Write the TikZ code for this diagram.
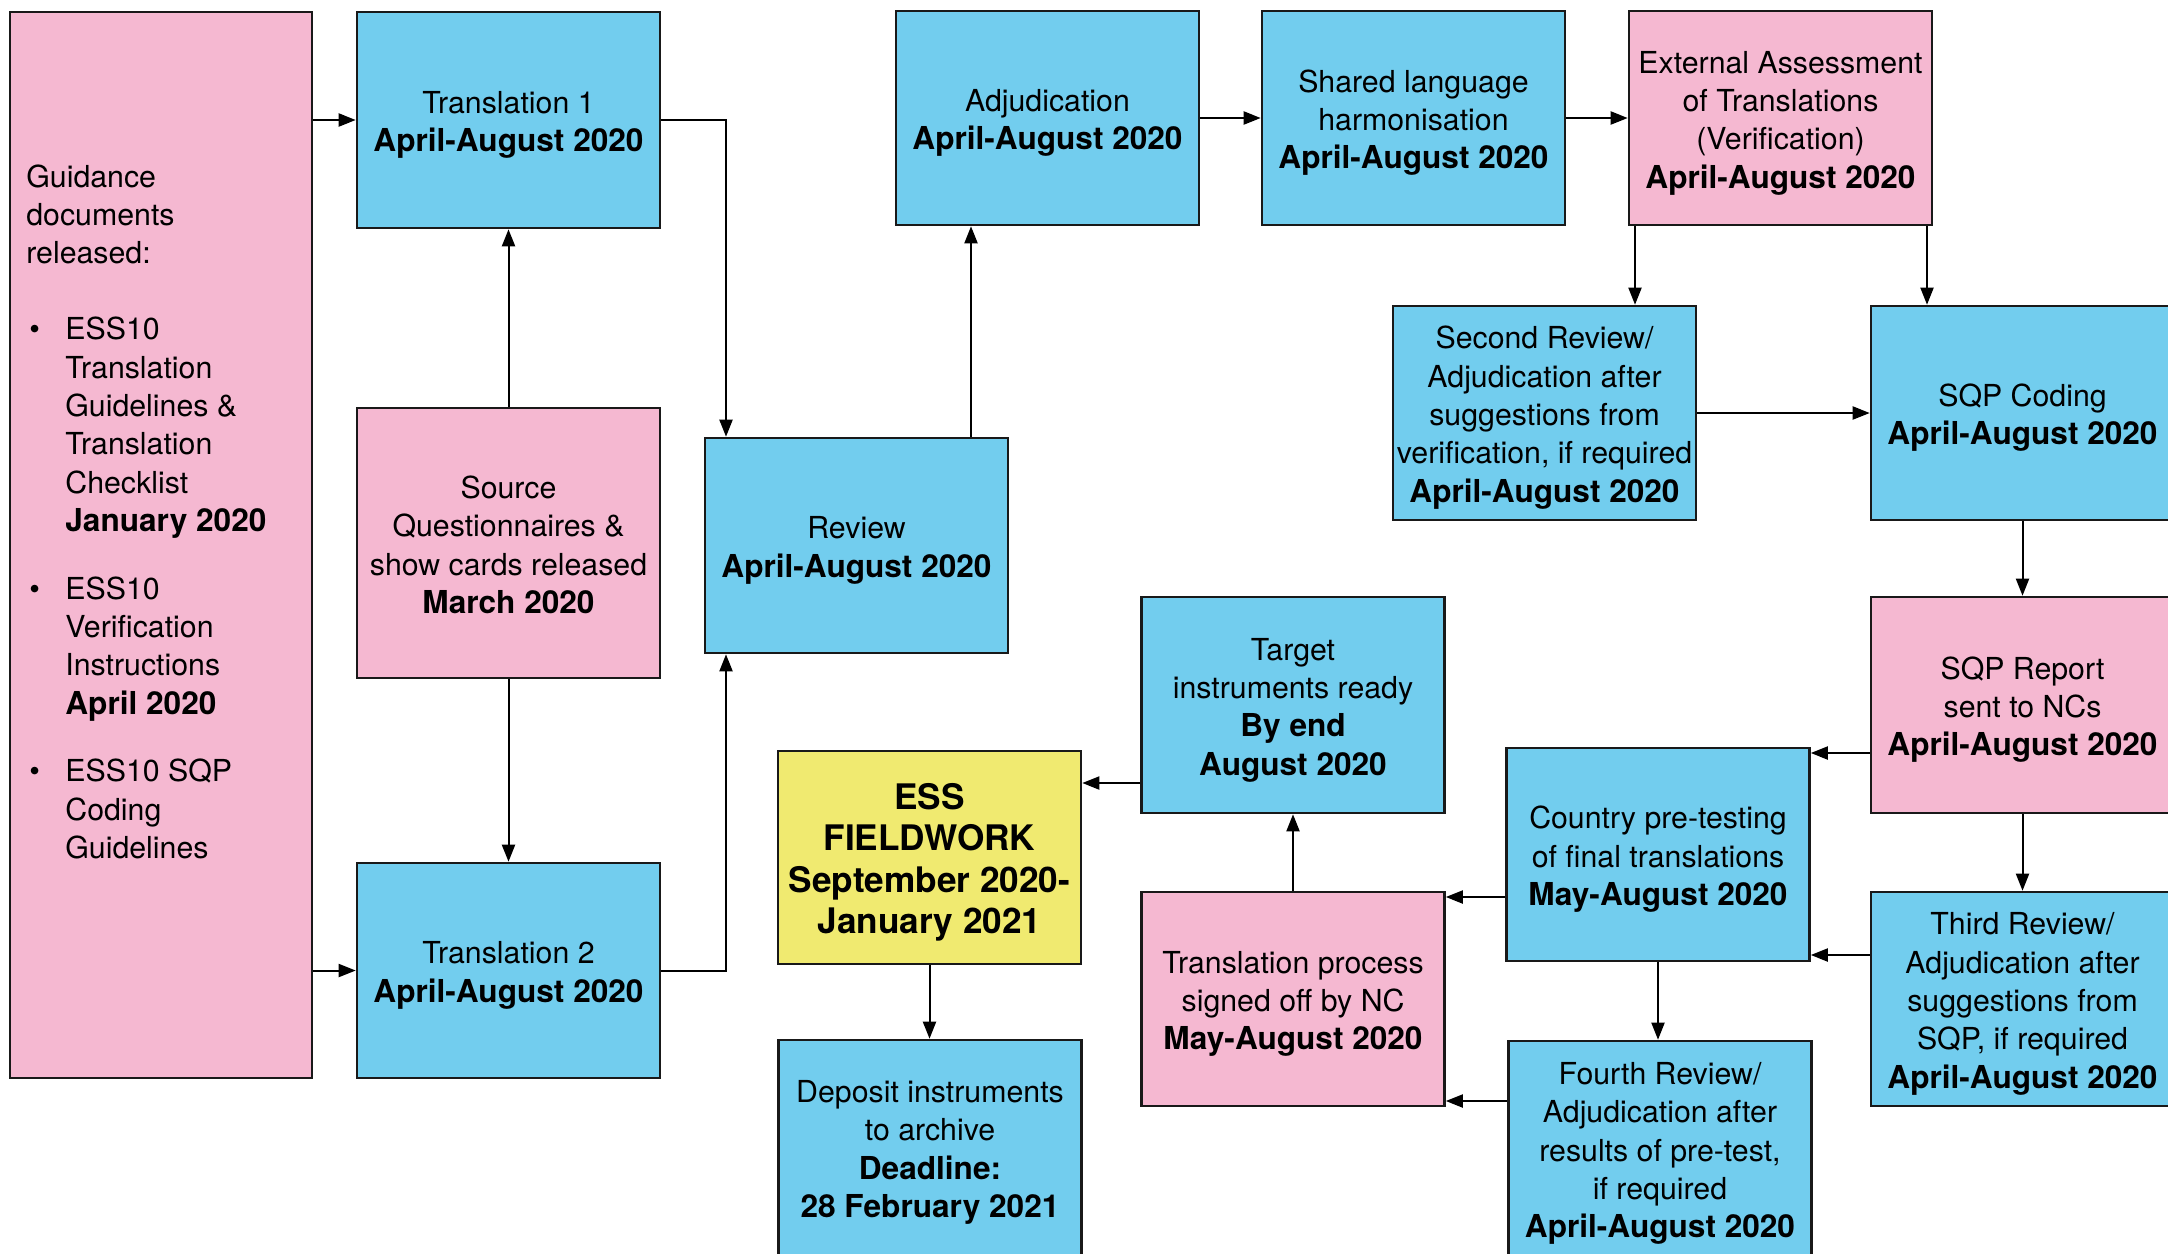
\documentclass[tikz,border=0pt]{standalone}
\usepackage{fontspec}
\setmainfont{TeX Gyre Heros}
\usetikzlibrary{arrows.meta}
\definecolor{essblue}{RGB}{114,205,238}
\definecolor{esspink}{RGB}{245,184,209}
\definecolor{essyellow}{RGB}{240,234,112}
\newcommand{\essrf}{\fontsize{15.15}{19.15}\selectfont}
\newcommand{\essbd}[1]{{\fontsize{15.8}{19.15}\selectfont\bfseries #1}}
\newcommand{\essbig}{\fontsize{17.6}{20.75}\selectfont\bfseries}
\newcommand{\essbul}{\makebox[19.5pt][l]{\hspace{1.5pt}•}}
\newcommand{\essind}{\hspace*{19.5pt}}
\newcommand{\essS}{\rule{0pt}{16pt}}
\begin{document}
\begin{tikzpicture}[x=0.5pt,y=-0.5pt,
  box/.style={draw=black!90, line width=1.3pt, align=center, inner sep=0pt,
    minimum width=151.5pt, minimum height=107.5pt, font=\essrf},
  bluebox/.style={box, fill=essblue},
  pinkbox/.style={box, fill=esspink},
  yellowbox/.style={box, fill=essyellow},
  arr/.style={line width=1pt, -{Triangle[length=8.5pt,width=6.5pt]}},
]
\useasboundingbox (0,0) rectangle (2168,1253);

% boxes
\node[pinkbox, minimum width=151pt, minimum height=533pt] (G) at (161,545) {};
\node[align=left, anchor=north west, inner sep=0pt, font=\essrf] (Gtext) at (26,164)
 {Guidance\\documents\\released:\\[19pt]
  \essbul ESS10\\\essind Translation\\\essind Guidelines \&\\\essind Translation\\\essind Checklist\\\essind\essbd{January 2020}\\[14.7pt]
  \essbul ESS10\\\essind Verification\\\essind Instructions\\\essind\essbd{April 2020}\\[14.7pt]
  \essbul ESS10 SQP\\\essind Coding\\\essind Guidelines};

\node[bluebox, minimum height=108pt] (T1) at (508.5,120) {\essS Translation 1\\\essbd{April-August 2020}};
\node[pinkbox, minimum height=135pt] (S) at (508.5,543) {\rule{0pt}{13pt}Source\\Questionnaires \&\\show cards released\\\essbd{March 2020}};
\node[bluebox] (T2) at (508.5,970.5) {\essS Translation 2\\\essbd{April-August 2020}};
\node[bluebox] (R) at (856.5,545.5) {\essS Review\\\essbd{April-August 2020}};
\node[bluebox, minimum height=107pt] (A) at (1047.5,118) {\essS Adjudication\\\essbd{April-August 2020}};
\node[bluebox, minimum height=107pt] (SH) at (1413.5,118) {\essS Shared language\\harmonisation\\\essbd{April-August 2020}};
\node[pinkbox, minimum height=107pt] (E) at (1780.5,118) {\essS External Assessment\\of Translations\\(Verification)\\\essbd{April-August 2020}};
\node[bluebox, minimum height=107pt] (SR) at (1544.5,413) {\essS Second Review/\\Adjudication after\\suggestions from\\verification, if required\\\essbd{April-August 2020}};
\node[bluebox, minimum height=107pt] (SC) at (2022.5,413) {\essS SQP Coding\\\essbd{April-August 2020}};
\node[pinkbox, minimum height=108pt] (SP) at (2022.5,705) {\essS SQP Report\\sent to NCs\\\essbd{April-August 2020}};
\node[bluebox, minimum height=107pt] (TR) at (2022.5,999) {\essS Third Review/\\Adjudication after\\suggestions from\\SQP, if required\\\essbd{April-August 2020}};
\node[bluebox, minimum height=106.5pt] (C) at (1658,854.5) {\essS Country pre-testing\\of final translations\\\essbd{May-August 2020}};
\node[bluebox, minimum height=107.5pt] (F) at (1660,1148.5) {\essS Fourth Review/\\Adjudication after\\results of pre-test,\\if required\\\essbd{April-August 2020}};
\node[pinkbox, minimum height=107pt] (TP) at (1293,999) {\essS Translation process\\signed off by NC\\\essbd{May-August 2020}};
\node[bluebox, minimum height=108pt] (TG) at (1293,705) {\essS Target\\instruments ready\\\essbd{By end}\\\essbd{August 2020}};
\node[yellowbox, minimum height=106.5pt, font=\essbig] (ESS) at (929.5,857.5) {\rule{0pt}{18pt}ESS\\FIELDWORK\\September 2020-\\January 2021};
\node[bluebox, minimum height=107.5pt] (D) at (930,1147.5) {\essS Deposit instruments\\to archive\\\essbd{Deadline:}\\\essbd{28 February 2021}};

% helper coordinates
\coordinate (rvin) at (726,0);
\coordinate (rvout) at (971,0);
\coordinate (ex1) at (1635,0);
\coordinate (ex2) at (1927,0);
\coordinate (hSP) at (0,753);
\coordinate (hTR) at (0,955);
\coordinate (hC) at (0,897);
\coordinate (hF) at (0,1101);
\coordinate (hTG) at (0,783);

% connectors
\draw[arr] (G.east |- T1.west) -- (T1.west);
\draw[arr] (G.east |- T2.west) -- (T2.west);
\draw[arr] (S.north) -- (T1.south);
\draw[arr] (S.south) -- (T2.north);
\draw[arr] (T1.east) -| (rvin |- R.north);
\draw[arr] (T2.east) -| (rvin |- R.south);
\draw[arr] (rvout |- R.north) -- (rvout |- A.south);
\draw[arr] (A.east) -- (SH.west);
\draw[arr] (SH.east) -- (E.west);
\draw[arr] (ex1 |- E.south) -- (ex1 |- SR.north);
\draw[arr] (ex2 |- E.south) -- (ex2 |- SC.north);
\draw[arr] (SR.east) -- (SC.west |- SR.east);
\draw[arr] (SC.south) -- (SP.north);
\draw[arr] (hSP -| SP.west) -- (hSP -| C.east);
\draw[arr] (SP.south) -- (TR.north);
\draw[arr] (hTR -| TR.west) -- (hTR -| C.east);
\draw[arr] (hC -| C.west) -- (hC -| TP.east);
\draw[arr] (C.south) -- (C.south |- F.north);
\draw[arr] (hF -| F.west) -- (hF -| TP.east);
\draw[arr] (TP.north) -- (TG.south);
\draw[arr] (hTG -| TG.west) -- (hTG -| ESS.east);
\draw[arr] (ESS.south) -- (ESS.south |- D.north);
\end{tikzpicture}
\end{document}
